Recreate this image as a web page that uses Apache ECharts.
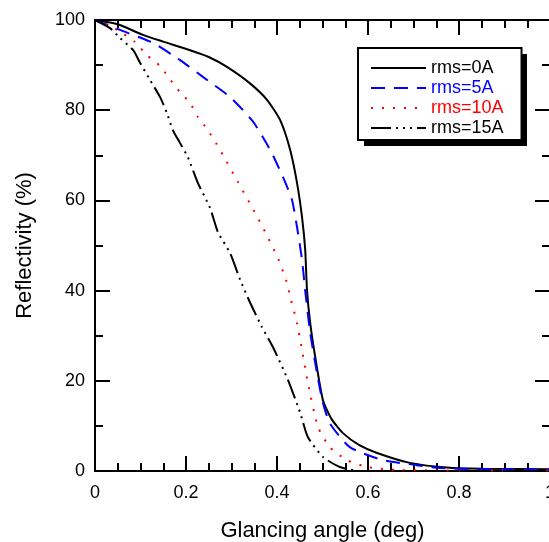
<!DOCTYPE html>
<html>
<head>
<meta charset="utf-8">
<script src="https://cdn.jsdelivr.net/npm/echarts@6/dist/echarts.min.js"></script>
<style>
  html, body { margin: 0; padding: 0; background: #fff; }
  #main { width: 549px; height: 542px; }
</style>
</head>
<body>
<div id="main"></div>
<script>
// values
var rms0_x = [0, 0.03, 0.055, 0.105, 0.15, 0.209, 0.25, 0.29, 0.34, 0.378, 0.407, 0.429, 0.444, 0.455, 0.462, 0.466, 0.473, 0.484, 0.501, 0.52, 0.545, 0.58, 0.62, 0.692, 0.78, 0.85, 1.0];
var rms0_y = [100, 99.5, 98.9, 96.7, 95.2, 93.3, 91.8, 89.6, 86, 82.3, 77.8, 71.2, 63.9, 56.3, 49, 40, 32.8, 25.3, 15.7, 11.5, 8.4, 5.8, 4, 1.8, 0.7, 0.5, 0.4];

var rms5_x = [0, 0.03, 0.055, 0.128, 0.187, 0.237, 0.297, 0.347, 0.385, 0.413, 0.433, 0.444, 0.455, 0.462, 0.473, 0.488, 0.5, 0.516, 0.56, 0.633, 0.707, 0.75, 0.85, 1.0];
var rms5_y = [100, 98.8, 97.8, 94.9, 91.1, 87.4, 82.9, 77.5, 71.2, 65.2, 60.1, 54.1, 46.8, 40, 30.6, 21.7, 15.5, 10.6, 5.3, 2.4, 1.3, 0.7, 0.4, 0.3];

var rms10_x = [0, 0.029, 0.06, 0.088, 0.114, 0.143, 0.163, 0.187, 0.209, 0.226, 0.248, 0.266, 0.281, 0.314, 0.345, 0.374, 0.402, 0.422, 0.429, 0.444, 0.455, 0.468, 0.49, 0.516, 0.554, 0.598, 0.67, 1.0];
var rms10_y = [100, 98.9, 97.1, 95.1, 92.2, 89.8, 87.1, 84, 81.6, 78.5, 75.6, 72.7, 70.1, 64.1, 58.5, 53, 47.2, 41.7, 38.6, 32.8, 26.8, 19.5, 9.8, 5.3, 2.4, 0.9, 0.2, 0.1];

var rms15_x = [0, 0.033, 0.055, 0.084, 0.099, 0.121, 0.143, 0.158, 0.171, 0.187, 0.204, 0.226, 0.253, 0.27, 0.297, 0.319, 0.341, 0.367, 0.391, 0.424, 0.451, 0.468, 0.501, 0.538, 0.582, 1.0];
var rms15_y = [100, 98.2, 96, 93.3, 90.5, 86.7, 82.9, 79.4, 75.6, 72.7, 69.6, 63.9, 58.3, 53, 48.3, 42.4, 37.3, 31.9, 27.5, 20.2, 12.9, 7.5, 3.1, 0.9, 0, 0];

var seriesNames = ['rms=0A', 'rms=5A', 'rms=10A', 'rms=15A'];
var legendColors = ['#000', '#0000ff', '#ff0000', '#000'];

function pairs(xs, ys) {
    return xs.map(function (x, i) { return [x, ys[i]]; });
}

var font = "'Liberation Sans', Arial, sans-serif";
var myChart = echarts.init(document.getElementById('main'));

function axisBase(showLabel, margin) {
    return {
        axisLine: { show: true, onZero: false, lineStyle: { color: '#000', width: 2 } },
        axisTick: { show: true, inside: true, length: 15, lineStyle: { color: '#000', width: 2 } },
        splitLine: { show: false },
        axisLabel: { show: showLabel, color: '#000', fontSize: 18, fontFamily: font, margin: margin }
    };
}

function xAx(pos, showLabel) {
    return Object.assign(axisBase(showLabel, 13), {
        type: 'value', position: pos, min: 0, max: 1, interval: 0.2,
        minorTick: { show: true, splitNumber: 4, length: 8, lineStyle: { color: '#000', width: 2 } }
    });
}
function yAx(pos, showLabel) {
    return Object.assign(axisBase(showLabel, 10), {
        type: 'value', position: pos, min: 0, max: 100, interval: 20,
        minorTick: { show: true, splitNumber: 2, length: 8, lineStyle: { color: '#000', width: 2 } }
    });
}

var xBottom = xAx('bottom', true);
xBottom.name = 'Glancing angle (deg)';
xBottom.nameLocation = 'middle';
xBottom.nameGap = 49;
xBottom.nameTextStyle = { color: '#000', fontSize: 22, fontFamily: font };
var yLeft = yAx('left', true);
yLeft.name = 'Reflectivity (%)';
yLeft.nameLocation = 'middle';
yLeft.nameGap = 59;
yLeft.nameTextStyle = { color: '#000', fontSize: 22, fontFamily: font };

var option = {
    animation: false,
    backgroundColor: '#fff',
    grid: { left: 95, right: -1, top: 20, bottom: 71, containLabel: false, outerBoundsMode: 'none' },
    xAxis: [xBottom, xAx('top', false)],
    yAxis: [yLeft, yAx('right', false)],
    // drop shadow behind the legend box
    graphic: [{
        type: 'rect', left: 364, top: 54, z: 1,
        shape: { width: 163, height: 92 },
        style: { fill: '#000' }
    }],
    legend: {
        orient: 'vertical',
        left: 358, top: 48, z: 10,
        itemWidth: 55, itemHeight: 14, itemGap: 0,
        padding: [10, 18, 2, 12],
        backgroundColor: '#fff',
        borderColor: '#000', borderWidth: 2,
        itemStyle: { opacity: 0 },
        textStyle: { fontSize: 18, lineHeight: 20, fontFamily: font, color: '#000' },
        data: seriesNames.map(function (n, i) {
            return { name: n, textStyle: { color: legendColors[i] } };
        })
    },
    series: [
        {
            name: seriesNames[0], type: 'line', symbol: 'none', smooth: 0.2,
            data: pairs(rms0_x, rms0_y),
            lineStyle: { color: '#000', width: 2, type: 'solid' },
            itemStyle: { color: '#000' }
        },
        {
            name: seriesNames[1], type: 'line', symbol: 'none', smooth: 0.2,
            data: pairs(rms5_x, rms5_y),
            lineStyle: { color: '#0000ff', width: 2, type: [14, 9] },
            itemStyle: { color: '#0000ff' }
        },
        {
            name: seriesNames[2], type: 'line', symbol: 'none', smooth: 0.2,
            data: pairs(rms10_x, rms10_y),
            lineStyle: { color: '#ff0000', width: 2, type: [2, 9] },
            itemStyle: { color: '#ff0000' }
        },
        {
            name: seriesNames[3], type: 'line', symbol: 'none', smooth: 0.2,
            data: pairs(rms15_x, rms15_y),
            lineStyle: { color: '#000', width: 2, type: [20, 5, 2, 5, 2, 5, 2, 5] },
            itemStyle: { color: '#000' }
        }
    ]
};
myChart.setOption(option);
window.addEventListener('resize', function () {
    myChart.resize();
});
</script>
</body>
</html>
